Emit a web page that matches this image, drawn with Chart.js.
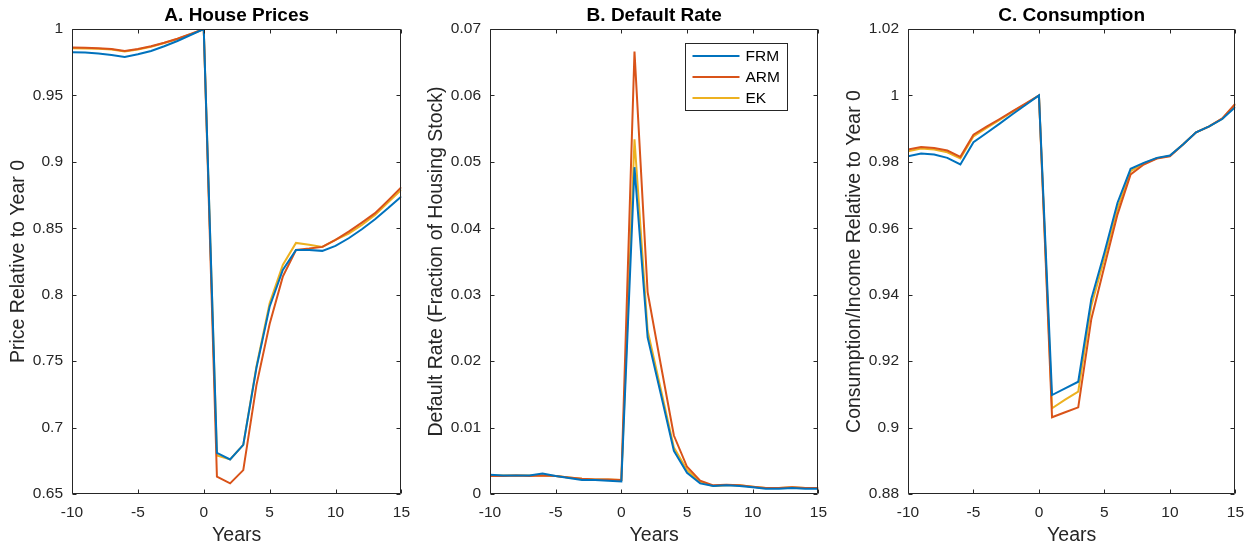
<!DOCTYPE html>
<html>
<head>
<meta charset="utf-8">
<script src="https://cdn.jsdelivr.net/npm/chart.js@4.4.1/dist/chart.umd.min.js"></script>
<style>
    html, body { margin: 0; padding: 0; background: #fff; }
    #wrap { position: relative; width: 1253px; height: 548px; overflow: hidden; }
    canvas { position: absolute; top: 0; }
</style>
</head>
<body>
<div id="wrap">
    <canvas id="chartA" width="419" height="548" style="left:0px"></canvas>
    <canvas id="chartB" width="418" height="548" style="left:418px"></canvas>
    <canvas id="chartC" width="417" height="548" style="left:836px"></canvas>
</div>
<script>
// years after the shock
const $years = [-10, -9, -8, -7, -6, -5, -4, -3, -2, -1, 0, 1, 2, 3, 4, 5, 6, 7, 8, 9, 10, 11, 12, 13, 14, 15];
const $xTicks = [-10, -5, 0, 5, 10, 15];
const $seriesNames = ['FRM', 'ARM', 'EK'];
const $seriesColors = ['#0072BD', '#D95319', '#EDB120'];

// A. House Prices
const $priceFRM = [0.9825, 0.9823, 0.9815, 0.9805, 0.979, 0.981, 0.9835, 0.987, 0.991, 0.9955, 1.0,
    0.681, 0.676, 0.687, 0.745, 0.791, 0.8186, 0.8337, 0.8337, 0.833, 0.8367, 0.8425, 0.8493, 0.8568, 0.8652, 0.874];
const $priceARM = [0.986, 0.9858, 0.9855, 0.985, 0.9835, 0.985, 0.987, 0.9897, 0.9927, 0.9962, 1.0,
    0.663, 0.658, 0.668, 0.732, 0.778, 0.8136, 0.8337, 0.8347, 0.836, 0.8413, 0.8475, 0.8543, 0.8614, 0.871, 0.881];
const $priceEK = [0.9856, 0.9854, 0.9851, 0.9846, 0.9831, 0.9846, 0.9866, 0.9895, 0.9925, 0.996, 1.0,
    0.679, 0.676, 0.687, 0.746, 0.7935, 0.8224, 0.839, 0.8376, 0.836, 0.8413, 0.846, 0.8525, 0.860, 0.8695, 0.879];
const $priceTicks = [0.65, 0.7, 0.75, 0.8, 0.85, 0.9, 0.95, 1];

// B. Default Rate
const $defaultFRM = [0.0029, 0.0028, 0.0028, 0.0028, 0.0031, 0.0027, 0.0024, 0.0021, 0.0021, 0.002, 0.0019,
    0.0492, 0.0236, 0.0151, 0.0065, 0.0032, 0.0016, 0.0012, 0.0013, 0.0012, 0.001, 0.0008, 0.0008, 0.0009, 0.0008, 0.0008];
const $defaultARM = [0.0027, 0.0027, 0.0028, 0.0027, 0.0028, 0.0027, 0.0025, 0.0023, 0.0022, 0.0022, 0.0021,
    0.0666, 0.0304, 0.0195, 0.0088, 0.0041, 0.002, 0.0013, 0.0014, 0.0013, 0.0011, 0.0009, 0.0009, 0.001, 0.0009, 0.0009];
const $defaultEK = [0.0028, 0.0028, 0.0028, 0.0028, 0.0028, 0.0027, 0.0025, 0.0023, 0.0022, 0.0022, 0.0021,
    0.0534, 0.0246, 0.0158, 0.007, 0.0036, 0.0018, 0.0012, 0.0013, 0.0013, 0.0011, 0.0009, 0.0009, 0.001, 0.0009, 0.0009];
const $defaultTicks = [0, 0.01, 0.02, 0.03, 0.04, 0.05, 0.06, 0.07];

// C. Consumption
const $consFRM = [0.9817, 0.9825, 0.9822, 0.9812, 0.9792, 0.9859, 0.9887, 0.9915, 0.9944, 0.9972, 1.0,
    0.9098, 0.9118, 0.9138, 0.9387, 0.9527, 0.9677, 0.9779, 0.9797, 0.9812, 0.9819, 0.9852, 0.9889, 0.9907, 0.9929, 0.9965];
const $consARM = [0.9837, 0.9845, 0.9842, 0.9834, 0.9815, 0.9882, 0.9906, 0.9929, 0.9953, 0.9976, 1.0,
    0.9031, 0.9046, 0.9061, 0.9327, 0.9486, 0.9642, 0.9762, 0.9792, 0.981, 0.9817, 0.9852, 0.9889, 0.9907, 0.9931, 0.9975];
const $consEK = [0.9832, 0.984, 0.9837, 0.9829, 0.981, 0.9877, 0.9902, 0.9926, 0.9951, 0.9975, 1.0,
    0.9058, 0.9084, 0.9108, 0.9367, 0.951, 0.966, 0.9772, 0.9795, 0.9811, 0.9818, 0.9852, 0.9889, 0.9907, 0.993, 0.9973];
const $consTicks = [0.88, 0.9, 0.92, 0.94, 0.96, 0.98, 1, 1.02];

const $font = "'Liberation Sans', Arial, Helvetica, sans-serif";
const $axisColor = '#262626';

// box round the plot area with inward ticks, like matlab axes, and the title centred on it
const $boxPlugin = {
    id: 'boxPlugin',
    afterDraw(chart, args, opts) {
        let $ctx = chart.ctx;
        let $a = chart.chartArea;
        let $l = Math.round($a.left) + 0.5, $r = Math.round($a.right) - 0.5;
        let $t = Math.round($a.top) + 0.5, $b = Math.round($a.bottom) - 0.5;
        $ctx.save();
        $ctx.strokeStyle = $axisColor;
        $ctx.lineWidth = 1;
        $ctx.beginPath();
        $ctx.moveTo($l, $t); $ctx.lineTo($r, $t); $ctx.lineTo($r, $b); $ctx.lineTo($l, $b); $ctx.closePath();
        chart.scales.x.ticks.forEach(function (tk) {
            let $px = Math.round(chart.scales.x.getPixelForValue(tk.value)) + 0.5;
            $ctx.moveTo($px, $b); $ctx.lineTo($px, $b - 4);
            $ctx.moveTo($px, $t); $ctx.lineTo($px, $t + 4);
        });
        chart.scales.y.ticks.forEach(function (tk) {
            let $py = Math.round(chart.scales.y.getPixelForValue(tk.value)) + 0.5;
            $ctx.moveTo($l, $py); $ctx.lineTo($l + 4, $py);
            $ctx.moveTo($r, $py); $ctx.lineTo($r - 4, $py);
        });
        $ctx.stroke();
        // title
        $ctx.fillStyle = '#000';
        $ctx.font = 'bold 19px ' + $font;
        $ctx.textAlign = 'center';
        $ctx.textBaseline = 'middle';
        $ctx.fillText(opts.text, ($a.left + $a.right) / 2, 16);
        $ctx.restore();
    }
};

// legend drawn inside the plot area (north east)
const $legendPlugin = {
    id: 'insideLegend',
    afterDraw(chart, args, opts) {
        if (!opts.show) return;
        let $ctx = chart.ctx;
        let $a = chart.chartArea;
        let $w = 102, $h = 67;
        let $x = Math.round($a.right - 31 - $w) + 0.5;
        let $y = Math.round($a.top + 14) + 0.5;
        $ctx.save();
        $ctx.fillStyle = '#fff';
        $ctx.fillRect($x, $y, $w, $h);
        $ctx.strokeStyle = $axisColor;
        $ctx.lineWidth = 1;
        $ctx.strokeRect($x, $y, $w, $h);
        $ctx.font = '15.5px ' + $font;
        $ctx.textBaseline = 'middle';
        chart.data.datasets.forEach(function (ds, i) {
            let $ly = $y + 12.5 + i * 21;
            $ctx.strokeStyle = ds.borderColor;
            $ctx.lineWidth = 2;
            $ctx.beginPath();
            $ctx.moveTo($x + 7, $ly);
            $ctx.lineTo($x + 54, $ly);
            $ctx.stroke();
            $ctx.fillStyle = '#000';
            $ctx.fillText(ds.label, $x + 60, $ly + 1);
        });
        $ctx.restore();
    }
};

function createLineChart($id, $title, $yLabel, $values, $yTicks, $showLegend) {
    let $ctx = document.getElementById($id).getContext('2d');
    let $datasets = $values.map(function (v, i) {
        return {
            label: $seriesNames[i],
            data: $years.map(function (yr, k) { return {x: yr, y: v[k]}; }),
            borderColor: $seriesColors[i],
            backgroundColor: $seriesColors[i],
            borderWidth: 2,
            pointRadius: 0,
            tension: 0,
            fill: false
        };
    });
    return new Chart($ctx, {
        type: 'line',
        data: {datasets: $datasets},
        plugins: [$boxPlugin, $legendPlugin],
        options: {
            responsive: false,
            animation: false,
            // right side is set by the half width of the last x label plus its padding
            layout: {padding: {left: 0, right: 0, top: 29, bottom: 0}},
            plugins: {
                legend: {display: false},
                tooltip: {enabled: false},
                title: {display: false},
                boxPlugin: {text: $title},
                insideLegend: {show: $showLegend}
            },
            scales: {
                x: {
                    type: 'linear',
                    min: $xTicks[0],
                    max: $xTicks[$xTicks.length - 1],
                    afterBuildTicks: function (s) { s.ticks = $xTicks.map(function (v) { return {value: v}; }); },
                    afterFit: function (s) { s.height = 54; },
                    grid: {display: false, drawTicks: false},
                    border: {display: false},
                    ticks: {
                        color: $axisColor,
                        font: {family: $font, size: 15.5},
                        padding: 9,
                        maxRotation: 0,
                        callback: function (v) { return String(v); }
                    },
                    title: {
                        display: true,
                        text: 'Years',
                        color: $axisColor,
                        font: {family: $font, size: 19.5},
                        padding: {top: 0, bottom: 1}
                    }
                },
                y: {
                    type: 'linear',
                    min: $yTicks[0],
                    max: $yTicks[$yTicks.length - 1],
                    afterBuildTicks: function (s) { s.ticks = $yTicks.map(function (v) { return {value: v}; }); },
                    afterFit: function (s) { s.width = 72; },
                    grid: {display: false, drawTicks: false},
                    border: {display: false},
                    ticks: {
                        color: $axisColor,
                        font: {family: $font, size: 15.5},
                        padding: 9,
                        callback: function (v) { return String(+v.toFixed(4)); }
                    },
                    title: {
                        display: true,
                        text: $yLabel,
                        color: $axisColor,
                        font: {family: $font, size: 19.5},
                        padding: {top: 7, bottom: 0}
                    }
                }
            }
        }
    });
}

createLineChart('chartA', 'A. House Prices', 'Price Relative to Year 0',
    [$priceFRM, $priceARM, $priceEK], $priceTicks, false);
createLineChart('chartB', 'B. Default Rate', 'Default Rate (Fraction of Housing Stock)',
    [$defaultFRM, $defaultARM, $defaultEK], $defaultTicks, true);
createLineChart('chartC', 'C. Consumption', 'Consumption/Income Relative to Year 0',
    [$consFRM, $consARM, $consEK], $consTicks, false);
</script>
</body>
</html>
